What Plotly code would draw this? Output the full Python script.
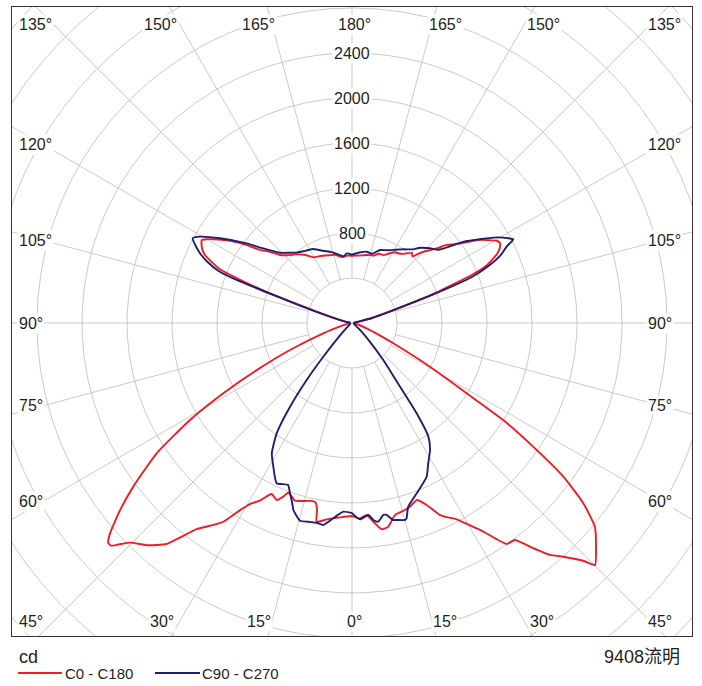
import numpy as np
import plotly.graph_objects as go

# ---------------- data (gamma angle in degrees, luminous intensity in cd) ----------------
gamma_c0 = [0, 2.3, 4.4, 6.5, 8.2, 10.1, 12.6, 15.8, 18, 20.1, 22.3, 24.6, 26, 28.1, 30, 32.2,
            35, 36.9, 38.5, 40.5, 42.1, 44.2, 45.1, 47.5, 50, 52.1, 54, 55.5, 57.3, 58.5, 60.7,
            63.8, 67, 70, 75, 80, 90, 100, 102, 104, 107.8, 109.5, 111.9, 113, 115.5, 117,
            118.3, 119.6, 121.5, 123, 125.8, 127.5, 129.5, 131, 133, 135.5, 137.7,
            139.5, 143, 146, 148.5, 152, 155, 158.9, 162, 165, 167.8, 171.6, 176, 180]
cd_c0 = [1716, 1738, 1712, 1792, 1852, 1839, 1750, 1728, 1705, 1676, 1748, 1876, 1920, 1978, 2070, 2191,
         2398, 2412, 2540, 2711, 2800, 2948, 3049, 2942, 2818, 2604, 2320, 1991, 1597, 1196, 795,
         409, 220, 139, 60, 30, 20, 20, 60, 183, 436, 754, 1150, 1290, 1430, 1475,
         1495, 1480, 1410, 1356, 1218, 1150, 1091, 1020, 950, 880, 800,
         820, 770, 745, 737, 700, 665, 660, 630, 625, 619, 608, 600, 598]

gamma_c180 = [0, 3.5, 7.3, 10.1, 10.6, 11.5, 12.8, 14.8, 17.8, 19.9, 20.6, 21.6, 23, 25.2, 27.4, 29.4,
              30.9, 32.9, 35, 37, 40, 42.5, 45.3, 46.5, 47.3, 48, 49, 51.1, 53.2, 56.3, 59.1, 61.4,
              63.7, 66.5, 70.3, 75, 80, 90, 100, 102, 105.9, 109, 110.1, 111.5, 112.3, 114.8,
              116.5, 118.9, 120, 121.1, 124, 126.5, 128.5, 130.5, 133.4, 136.5, 140.5, 145,
              149.5, 154, 161.5, 166, 171.4, 176, 180]
cd_c180 = [1716, 1731, 1760, 1794, 1690, 1628, 1622, 1636, 1659, 1618, 1612, 1660, 1710, 1680, 1778, 1847,
           1938, 2104, 2200, 2295, 2564, 2680, 2776, 2860, 2918, 2916, 2850, 2649, 2428, 2087, 1678, 1303,
           945, 601, 271, 90, 40, 20, 20, 60, 185, 501, 820, 1146, 1278, 1440,
           1490, 1526, 1490, 1440, 1307, 1164, 1040, 980, 880, 830, 790, 740,
           677, 660, 635, 625, 593, 600, 598]

gamma_c90 = [0, 2.3, 4.9, 6.2, 7.5, 9.3, 10.2, 11.8, 12.8, 15.1, 15.6, 17, 20.8, 25.9, 28.5, 31.6,
             33.9, 35.6, 37, 40.2, 44, 48.8, 55, 65, 90, 102, 104, 107.6, 109.3, 111, 112.5, 114.5,
             116.3, 117.4, 118.5, 120.6, 123, 126.1, 130.2, 133.8, 138.4, 140.2, 145, 149.4, 154,
             159, 163.9, 168.4, 174, 180]
cd_c90 = [1690, 1747, 1713, 1761, 1781, 1729, 1733, 1789, 1796, 1813, 1803, 1708, 1620, 1519, 1420, 1324,
          1217, 987, 708, 431, 220, 94, 40, 20, 15, 60, 183, 436, 754, 1142, 1300, 1450,
          1533, 1615, 1580, 1495, 1370, 1225, 1009, 960, 892, 852, 800, 757, 720,
          695, 641, 647, 630, 607]

gamma_c270 = [0, 2.6, 5.5, 8.1, 10, 12.5, 14.7, 17.4, 18.5, 20, 21.6, 25.2, 28.7, 31.6, 34.3, 36.5,
              38.5, 40.4, 44, 50, 60, 90, 102, 105.5, 108.5, 109.8, 110.6, 111.3, 113, 114.5, 116,
              118, 119.6, 122.7, 127.1, 129.8, 134.3, 138, 141.8, 146, 152, 157, 162.9, 166, 172.9,
              175.6, 180]
cd_c270 = [1690, 1679, 1744, 1813, 1803, 1810, 1817, 1742, 1680, 1611, 1547, 1574, 1456, 1360, 1188, 926,
           647, 394, 150, 50, 20, 15, 60, 185, 500, 820, 1139, 1273, 1400, 1480, 1540,
           1604, 1554, 1394, 1173, 1041, 894, 840, 796, 770, 745, 700, 663, 640, 597,
           621, 607]

series_names = ["C0 - C180", "C90 - C270"]
series_colors = ["#ee1c25", "#221e6e"]
ring_values = [400, 800, 1200, 1600, 2000, 2400, 2800, 3200, 3600, 4000, 4400]
ring_labels = [800, 1200, 1600, 2000, 2400]
angle_ticks = [0, 15, 30, 45, 60, 75, 90, 105, 120, 135, 150, 165, 180]
unit_label = "cd"
flux_label = "9408流明"

# ---------------- geometry ----------------
PX = 400 / 45.0            # cd per screen pixel
CX, CY = 352, 323          # centre in page pixels
BOX_L, BOX_R, BOX_T, BOX_B = 12, 692, 7, 636
W, H = 702, 686

def to_xy(gam, cd, sign):
    g = np.radians(np.asarray(gam, float))
    c = np.asarray(cd, float)
    return sign * c * np.sin(g), -c * np.cos(g)

def pxx(px):
    return (px - CX) * PX

def pxy(py):
    return (CY - py) * PX

FONT = "Liberation Sans, Arial, Noto Sans CJK SC, sans-serif"
TXT = "#231f20"
GRID = "#c3c3c3"

fig = go.Figure()

# grid rings
gx, gy = [], []
t = np.linspace(0, 2 * np.pi, 721)
for r in ring_values:
    gx += list(r * np.cos(t)) + [None]
    gy += list(r * np.sin(t)) + [None]
# radial spokes every 15 degrees, starting at the innermost ring
for a in range(0, 360, 15):
    ar = np.radians(a)
    gx += [ring_values[0] * np.sin(ar), 5200 * np.sin(ar), None]
    gy += [-ring_values[0] * np.cos(ar), -5200 * np.cos(ar), None]
fig.add_trace(go.Scatter(x=gx, y=gy, mode="lines", line=dict(color=GRID, width=0.9),
                         hoverinfo="skip", showlegend=False))

# photometric curves
def curve(g_left, c_left, g_right, c_right):
    xl, yl = to_xy(g_left[::-1], c_left[::-1], -1)
    xr, yr = to_xy(g_right, c_right, 1)
    x = np.concatenate([xl, xr, xl[:1]])
    y = np.concatenate([yl, yr, yl[:1]])
    return x, y

x1, y1 = curve(gamma_c180, cd_c180, gamma_c0, cd_c0)
x2, y2 = curve(gamma_c270, cd_c270, gamma_c90, cd_c90)
fig.add_trace(go.Scatter(x=x1, y=y1, mode="lines", name=series_names[0],
                         line=dict(color=series_colors[0], width=1.9, shape="spline", smoothing=0.5),
                         showlegend=False))
fig.add_trace(go.Scatter(x=x2, y=y2, mode="lines", name=series_names[1],
                         line=dict(color=series_colors[1], width=1.9, shape="spline", smoothing=0.5),
                         showlegend=False))

ann = []
LBL = 16
# ring value labels along the 180 deg spoke
for v in ring_labels:
    ann.append(dict(x=0, y=v, text=str(v), showarrow=False, xanchor="center", yanchor="middle",
                    font=dict(family=FONT, size=LBL, color=TXT), bgcolor="white", borderpad=1))

# angle labels around the frame
TOP_ROW, BOT_ROW = 24, 621
LEFT_COL, RIGHT_COL = 17, 646
for side in (-1, 1):
    for a in angle_ticks:
        if side == 1 and a in (0, 180):
            continue
        txt = f"{a}°"
        if a in (45, 135):
            px = LEFT_COL if side < 0 else RIGHT_COL
            py = BOT_ROW if a == 45 else TOP_ROW
            xa = "left"
        elif a < 45 or a > 135:
            if a < 45:
                ex = (BOX_B - CY) * np.tan(np.radians(a))
                py = BOT_ROW
            else:
                ex = (CY - BOX_T) * np.tan(np.radians(180 - a))
                py = TOP_ROW
            px = CX + side * ex
            xa = "center"
            if a not in (0, 180):
                px += 9 * side
            else:
                px += 2
        else:
            px = LEFT_COL if side < 0 else RIGHT_COL
            dy_up = (CX - BOX_L) * (-np.cos(np.radians(a))) / np.sin(np.radians(a))
            py = CY - 0.91 * dy_up
            xa = "left"
        ann.append(dict(x=pxx(px), y=pxy(py), text=txt, showarrow=False, xanchor=xa,
                        yanchor="middle", font=dict(family=FONT, size=LBL, color=TXT),
                        bgcolor="white", borderpad=1))

def paper_x(px):
    return (px - BOX_L) / (BOX_R - BOX_L)

def paper_y(py):
    return (BOX_B - py) / (BOX_B - BOX_T)

# unit and flux labels
ann.append(dict(x=paper_x(17), y=paper_y(657), xref="paper", yref="paper", text=unit_label,
                showarrow=False, xanchor="left", yanchor="middle",
                font=dict(family=FONT, size=18, color=TXT)))
ann.append(dict(x=paper_x(682), y=paper_y(657), xref="paper", yref="paper", text=flux_label,
                showarrow=False, xanchor="right", yanchor="middle",
                font=dict(family=FONT, size=18, color=TXT)))

# legend (drawn manually to match the swatch length)
shapes = []
legend_pos = [(18, 62, 63), (155, 200, 200)]
for (x0, x1_, xt), name, col in zip(legend_pos, series_names, series_colors):
    shapes.append(dict(type="line", xref="paper", yref="paper", x0=paper_x(x0), x1=paper_x(x1_),
                       y0=paper_y(673), y1=paper_y(673), line=dict(color=col, width=2)))
    ann.append(dict(x=paper_x(xt), y=paper_y(674), xref="paper", yref="paper", text=name,
                    showarrow=False, xanchor="left", yanchor="middle",
                    font=dict(family=FONT, size=15, color=TXT)))

axis_common = dict(showgrid=False, zeroline=False, showticklabels=False, ticks="",
                   showline=True, mirror=True, linecolor="#333333", linewidth=1.3,
                   fixedrange=True)
fig.update_layout(
    width=W, height=H,
    margin=dict(l=BOX_L, r=W - BOX_R, t=BOX_T, b=H - BOX_B),
    paper_bgcolor="white", plot_bgcolor="white",
    xaxis=dict(range=[pxx(BOX_L), pxx(BOX_R)], **axis_common),
    yaxis=dict(range=[pxy(BOX_B), pxy(BOX_T)], **axis_common),
    annotations=ann, shapes=shapes, showlegend=False,
)

fig.write_html("out.html", config={"displayModeBar": False},
               post_script="document.body.style.margin='0';document.body.style.overflow='hidden';")
